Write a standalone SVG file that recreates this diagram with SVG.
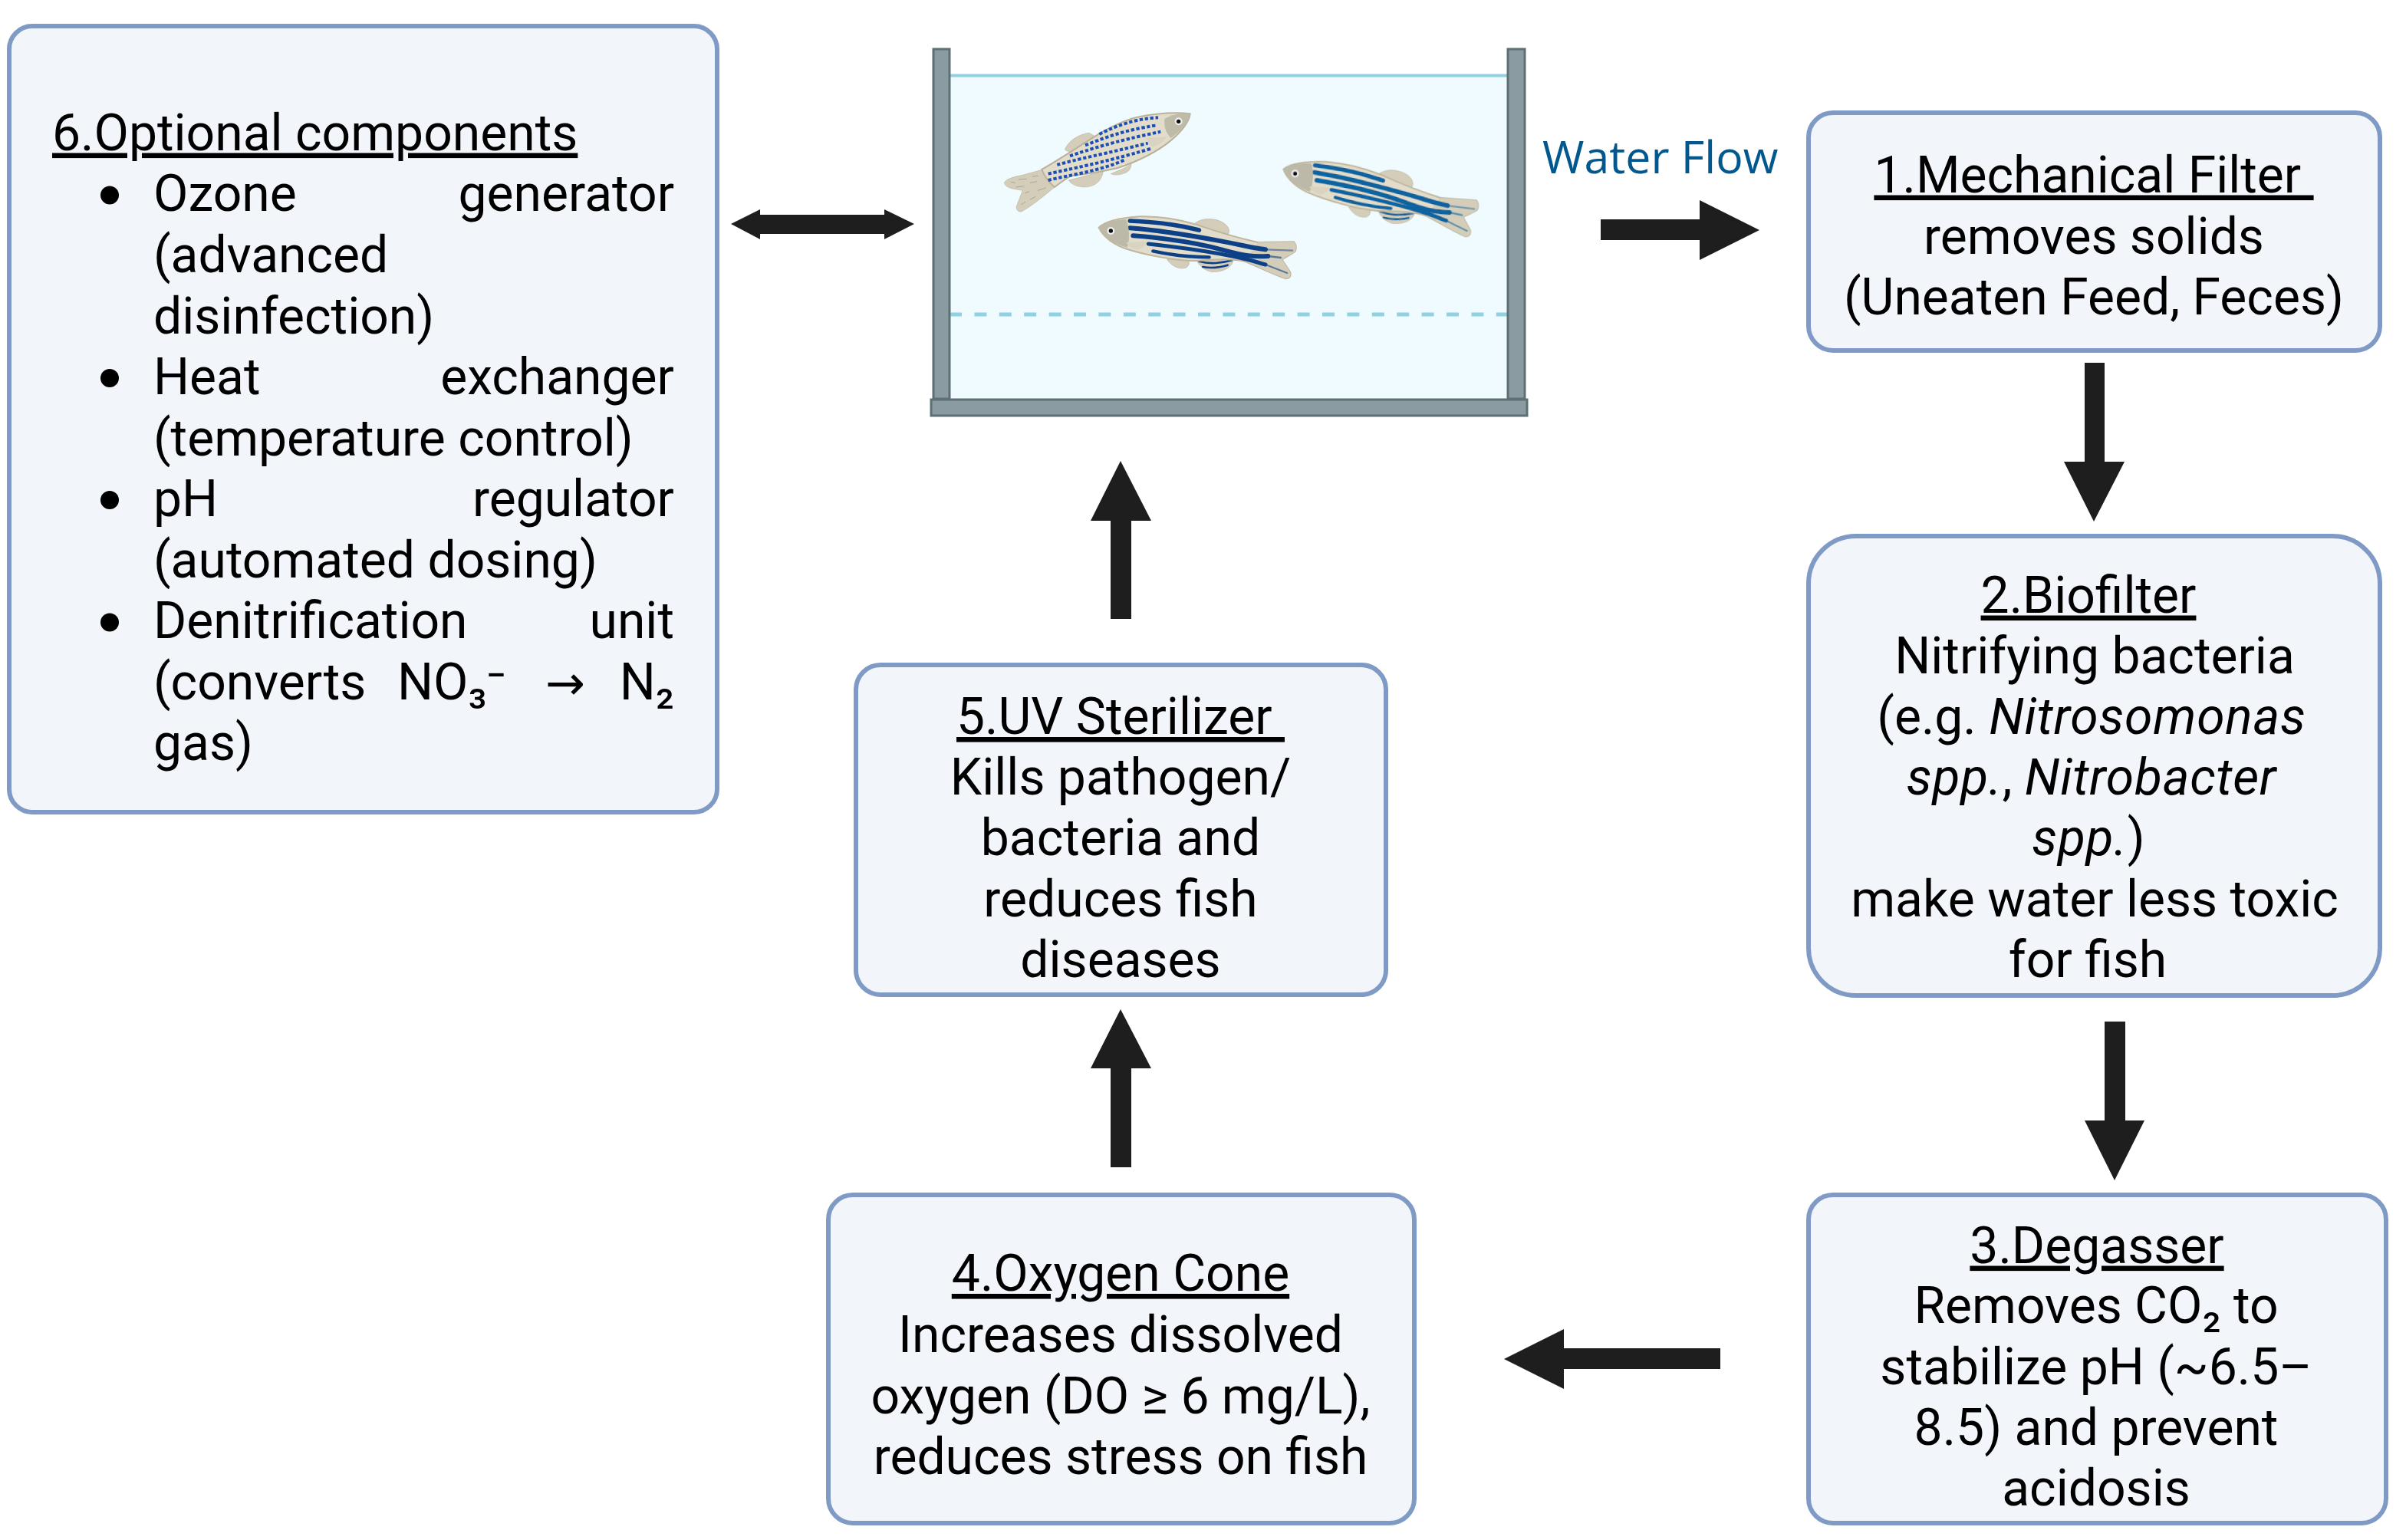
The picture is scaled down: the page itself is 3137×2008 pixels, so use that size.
<svg xmlns="http://www.w3.org/2000/svg" width="3137" height="2008" viewBox="0 0 3137 2008">
<style>
.box{fill:#f2f6fb;stroke:#7f9bc5;stroke-width:6}
text{font-family:Roboto,"Liberation Sans",sans-serif;font-size:66px;fill:#000;transform:translateY(1.5px)}
.c{text-anchor:middle}
.u{text-decoration:underline}
.i{font-style:italic;letter-spacing:.7px}
.arrow{fill:#1e1e1e}
.wall{fill:#8a9ba1;stroke:#5f7075;stroke-width:3}
.fin{fill:#d3cdba;stroke:#bdb59f;stroke-width:2}
.st{fill:none;stroke:currentColor;stroke-linecap:round}
.sp{fill:none;stroke:#1f4fb5;stroke-width:12;stroke-dasharray:13 8}
.tick{fill:none;stroke:#a9a597;stroke-width:3;stroke-linecap:round}
</style>
<defs>
<filter id="soft" x="-5%" y="-5%" width="110%" height="110%"><feGaussianBlur stdDeviation="0.7"/></filter>
<g id="zebra">
<path class="fin" d="M415,62 C440,45 470,42 505,52 C535,62 555,85 545,105 L480,95 Z"/>
<path class="fin" d="M305,205 L388,208 Q398,225 378,238 C350,245 322,230 305,205Z"/>
<path class="fin" d="M418,205 L565,205 C560,238 522,255 480,254 C450,248 430,228 418,205Z"/>
<path class="st" stroke-width="8" d="M430,212 C470,224 520,220 558,208 M445,234 C480,241 515,235 542,227"/>
<path d="M38,80 C60,58 120,42 200,37 C280,35 345,48 425,70 C505,98 590,122 660,138 L800,136 Q814,150 807,172 C790,187 765,197 754,205 L787,255 Q792,278 770,280 C720,264 650,228 610,213 C560,200 500,205 420,210 C340,210 230,190 150,165 C100,150 55,118 38,80 Z" fill="#e2ddcb" stroke="#bfb69c" stroke-width="6"/>
<path d="M660,138 L800,136 Q814,150 807,172 C790,187 765,197 754,205 L787,255 Q792,278 770,280 C720,264 650,228 610,213Z" fill="#d3cdba"/>
<path class="st" stroke-width="17" d="M160,54 C250,57 350,70 430,90"/>
<path class="st" stroke-width="18" d="M160,82 C290,92 420,115 520,134 S640,160 690,166"/>
<path class="st" stroke-width="7" opacity=".5" d="M690,166 L795,170"/>
<path class="st" stroke-width="18" d="M172,112 C300,122 430,142 520,167 S640,195 700,192"/>
<path class="st" stroke-width="7" opacity=".6" d="M700,192 L750,198"/>
<path class="st" stroke-width="15" d="M232,144 C350,157 470,174 560,192 S650,215 690,225"/>
<path class="st" stroke-width="6" opacity=".6" d="M690,225 L775,258"/>
<path class="st" stroke-width="13" d="M250,172 C320,187 400,196 470,196"/>
<path d="M38,80 C60,60 100,50 145,48 Q165,100 150,158 C100,148 55,115 38,80 Z" fill="#bdb9a8"/>
<path d="M145,138 L225,135 Q222,155 190,167 Q160,164 145,138Z" fill="#d9d3c2"/>
<circle cx="85" cy="93" r="15" fill="#eee"/><circle cx="85" cy="93" r="8" fill="#111"/>
</g>
</defs>

<g id="tank">
<rect x="1238" y="98" width="728" height="424" fill="#effbff"/>
<line x1="1238" y1="98.500" x2="1966" y2="98.500" stroke="#90d2e2" stroke-width="4"/>
<line x1="1238" y1="410" x2="1966" y2="410" stroke="#90d2e2" stroke-width="5" stroke-dasharray="16 16.400"/>
<rect class="wall" x="1217" y="64" width="21" height="456"/>
<rect class="wall" x="1966" y="64" width="22" height="456"/>
<rect class="wall" x="1214" y="521" width="777" height="21"/>
<g id="fish-speckled" filter="url(#soft)" transform="translate(1300 120) scale(.3333)">
<path class="fin" d="M265,225 C280,190 320,165 360,160 L395,180 L300,235 Q275,235 265,225Z"/>
<path class="fin" d="M445,320 C480,305 510,295 525,280 Q525,305 505,315 Q470,330 445,320Z"/>
<path class="fin" d="M280,345 C320,335 380,320 415,310 C410,350 380,372 340,372 C310,370 290,360 280,345Z"/>
<path class="fin" d="M180,303 L100,325 C70,330 35,340 28,355 Q32,372 60,378 L100,385 L75,450 Q78,470 95,468 C130,450 180,410 225,372Z"/>
<path d="M755,85 C700,78 600,82 520,106 C440,132 360,188 290,233 C250,258 210,283 175,303 C185,330 200,350 225,372 C250,352 270,338 290,328 C340,323 400,313 470,298 C560,268 640,228 700,172 C730,142 752,115 755,85 Z" fill="#e2ddcb" stroke="#b9b199" stroke-width="6"/>
<path class="sp" d="M400,165 C470,130 540,105 630,100"/>
<path class="sp" d="M345,208 C420,180 490,150 625,130"/>
<path class="sp" d="M285,250 C360,225 450,195 640,155"/>
<path class="sp" d="M235,285 C300,265 430,240 590,200"/>
<path class="sp" d="M200,320 C290,300 400,280 600,222"/>
<path class="sp" d="M200,345 C280,325 400,310 500,265"/>
<path d="M755,85 C710,82 680,90 655,105 Q650,150 680,180 C720,150 750,120 755,85Z" fill="#bfbba9"/>
<path d="M585,180 L665,175 Q645,205 610,215 Q590,205 585,180Z" fill="#d9d3c2"/>
<circle cx="710" cy="115" r="15" fill="#eee"/><circle cx="710" cy="115" r="8" fill="#111"/>
<path class="tick" d="M55,352 L70,355 M85,342 L115,340 M140,330 L160,328 M75,372 L105,368 M130,355 L155,350 M110,395 L125,390 M160,385 L190,375 M95,440 L110,430 M130,420 L150,410"/>
</g>
<use id="fish-lower" href="#zebra" filter="url(#soft)" color="#0c4186" transform="translate(1420 270) scale(.3333)"/>
<use id="fish-right" href="#zebra" filter="url(#soft)" color="#0f639f" transform="translate(1674 220.700) rotate(5) scale(.3333) translate(-40 -80)"/>
</g>

<g id="connectors">
<path id="a-double" class="arrow" d="M953,292 L991,273 L991,280 H1153 V273 L1192,292 L1153,312 V305 H991 V312Z"/>
<path id="a-tank-filter" class="arrow" d="M2087,286 H2216 V261 L2294,300 L2216,339 V313 H2087Z"/>
<path id="a-1-2" class="arrow" d="M2718,473 H2744 V602 H2770 L2730,680 L2691,602 H2718Z"/>
<path id="a-2-3" class="arrow" d="M2744,1332 H2771 V1461 H2796 L2757,1539 L2718,1461 H2744Z"/>
<path id="a-3-4" class="arrow" d="M2243,1758 V1785 H2039 V1811 L1961,1772 L2039,1733 V1758Z"/>
<path id="a-4-5" class="arrow" d="M1448,1522 V1393 H1422 L1461,1316 L1501,1393 H1475 V1522Z"/>
<path id="a-5-tank" class="arrow" d="M1448,807 V679 H1422 L1461,601 L1501,679 H1475 V807Z"/>
</g>

<text id="water-flow" x="2011" y="224" style="font-family:'Open Sans','Liberation Sans',sans-serif;font-size:59px;fill:#00588f">Water Flow</text>

<g id="node-6">
<rect class="box" x="12" y="34" width="923" height="1025" rx="30"/>
<text class="u" x="68" y="194">6.Optional components</text>
<circle cx="143" cy="254.500" r="12"/><circle cx="143" cy="493" r="12"/><circle cx="143" cy="652" r="12"/><circle cx="143" cy="811.500" r="12"/>
<text y="273.500"><tspan x="200">Ozone</tspan> <tspan x="879" text-anchor="end">generator</tspan></text>
<text x="200" y="353">(advanced</text>
<text x="200" y="433">disinfection)</text>
<text y="512.500"><tspan x="200">Heat</tspan> <tspan x="879" text-anchor="end">exchanger</tspan></text>
<text x="200" y="592">(temperature control)</text>
<text y="671.500"><tspan x="200">pH</tspan> <tspan x="879" text-anchor="end">regulator</tspan></text>
<text x="200" y="751">(automated dosing)</text>
<text y="830.500"><tspan x="200">Denitrification</tspan> <tspan x="879" text-anchor="end">unit</tspan></text>
<text y="910"><tspan x="200">(converts</tspan> <tspan x="518">NO₃⁻</tspan> <tspan x="711" style="font-family:'DejaVu Sans',sans-serif;font-size:62px">→</tspan> <tspan x="879" text-anchor="end">N₂</tspan></text>
<text x="200" y="989.500">gas)</text>
</g>

<g id="node-1">
<rect class="box" x="2358" y="147" width="745" height="310" rx="32"/>
<text class="c u" x="2730" y="249" xml:space="preserve">1.Mechanical Filter </text>
<text class="c" x="2730" y="329">removes solids</text>
<text class="c" x="2730" y="408.500">(Uneaten Feed, Feces)</text>
</g>

<g id="node-2">
<rect class="box" x="2358" y="699" width="745" height="599" rx="62"/>
<text class="c u" x="2723" y="797">2.Biofilter</text>
<text class="c" x="2731" y="876">Nitrifying bacteria</text>
<text class="c" x="2727" y="955.500">(e.g. <tspan class="i">Nitrosomonas</tspan></text>
<text class="c" x="2727" y="1034.500"><tspan class="i">spp.</tspan>, <tspan class="i">Nitrobacter</tspan></text>
<text class="c" x="2723" y="1113.500"><tspan class="i">spp.</tspan>)</text>
<text class="c" x="2731" y="1193.500">make water less toxic</text>
<text class="c" x="2722" y="1272.500">for fish</text>
</g>

<g id="node-3">
<rect class="box" x="2358" y="1558" width="753" height="428" rx="32"/>
<text class="c u" x="2734" y="1645">3.Degasser</text>
<text class="c" x="2733" y="1723.500">Removes CO₂ to</text>
<text class="c" x="2733" y="1803">stabilize pH (~6.5–</text>
<text class="c" x="2733" y="1882">8.5) and prevent</text>
<text class="c" x="2733" y="1961">acidosis</text>
</g>

<g id="node-4">
<rect class="box" x="1080" y="1558" width="764" height="428" rx="32"/>
<text class="c u" x="1461" y="1681.500">4.Oxygen Cone</text>
<text class="c" x="1461" y="1761">Increases dissolved</text>
<text class="c" x="1461" y="1841">oxygen (DO ≥ 6 mg/L),</text>
<text class="c" x="1461" y="1920">reduces stress on fish</text>
</g>

<g id="node-5">
<rect class="box" x="1116" y="867" width="691" height="430" rx="32"/>
<text class="c u" x="1461" y="955.500" xml:space="preserve">5.UV Sterilizer </text>
<text class="c" x="1461" y="1034">Kills pathogen/</text>
<text class="c" x="1461" y="1113.500">bacteria and</text>
<text class="c" x="1461" y="1193">reduces fish</text>
<text class="c" x="1461" y="1272">diseases</text>
</g>
</svg>
